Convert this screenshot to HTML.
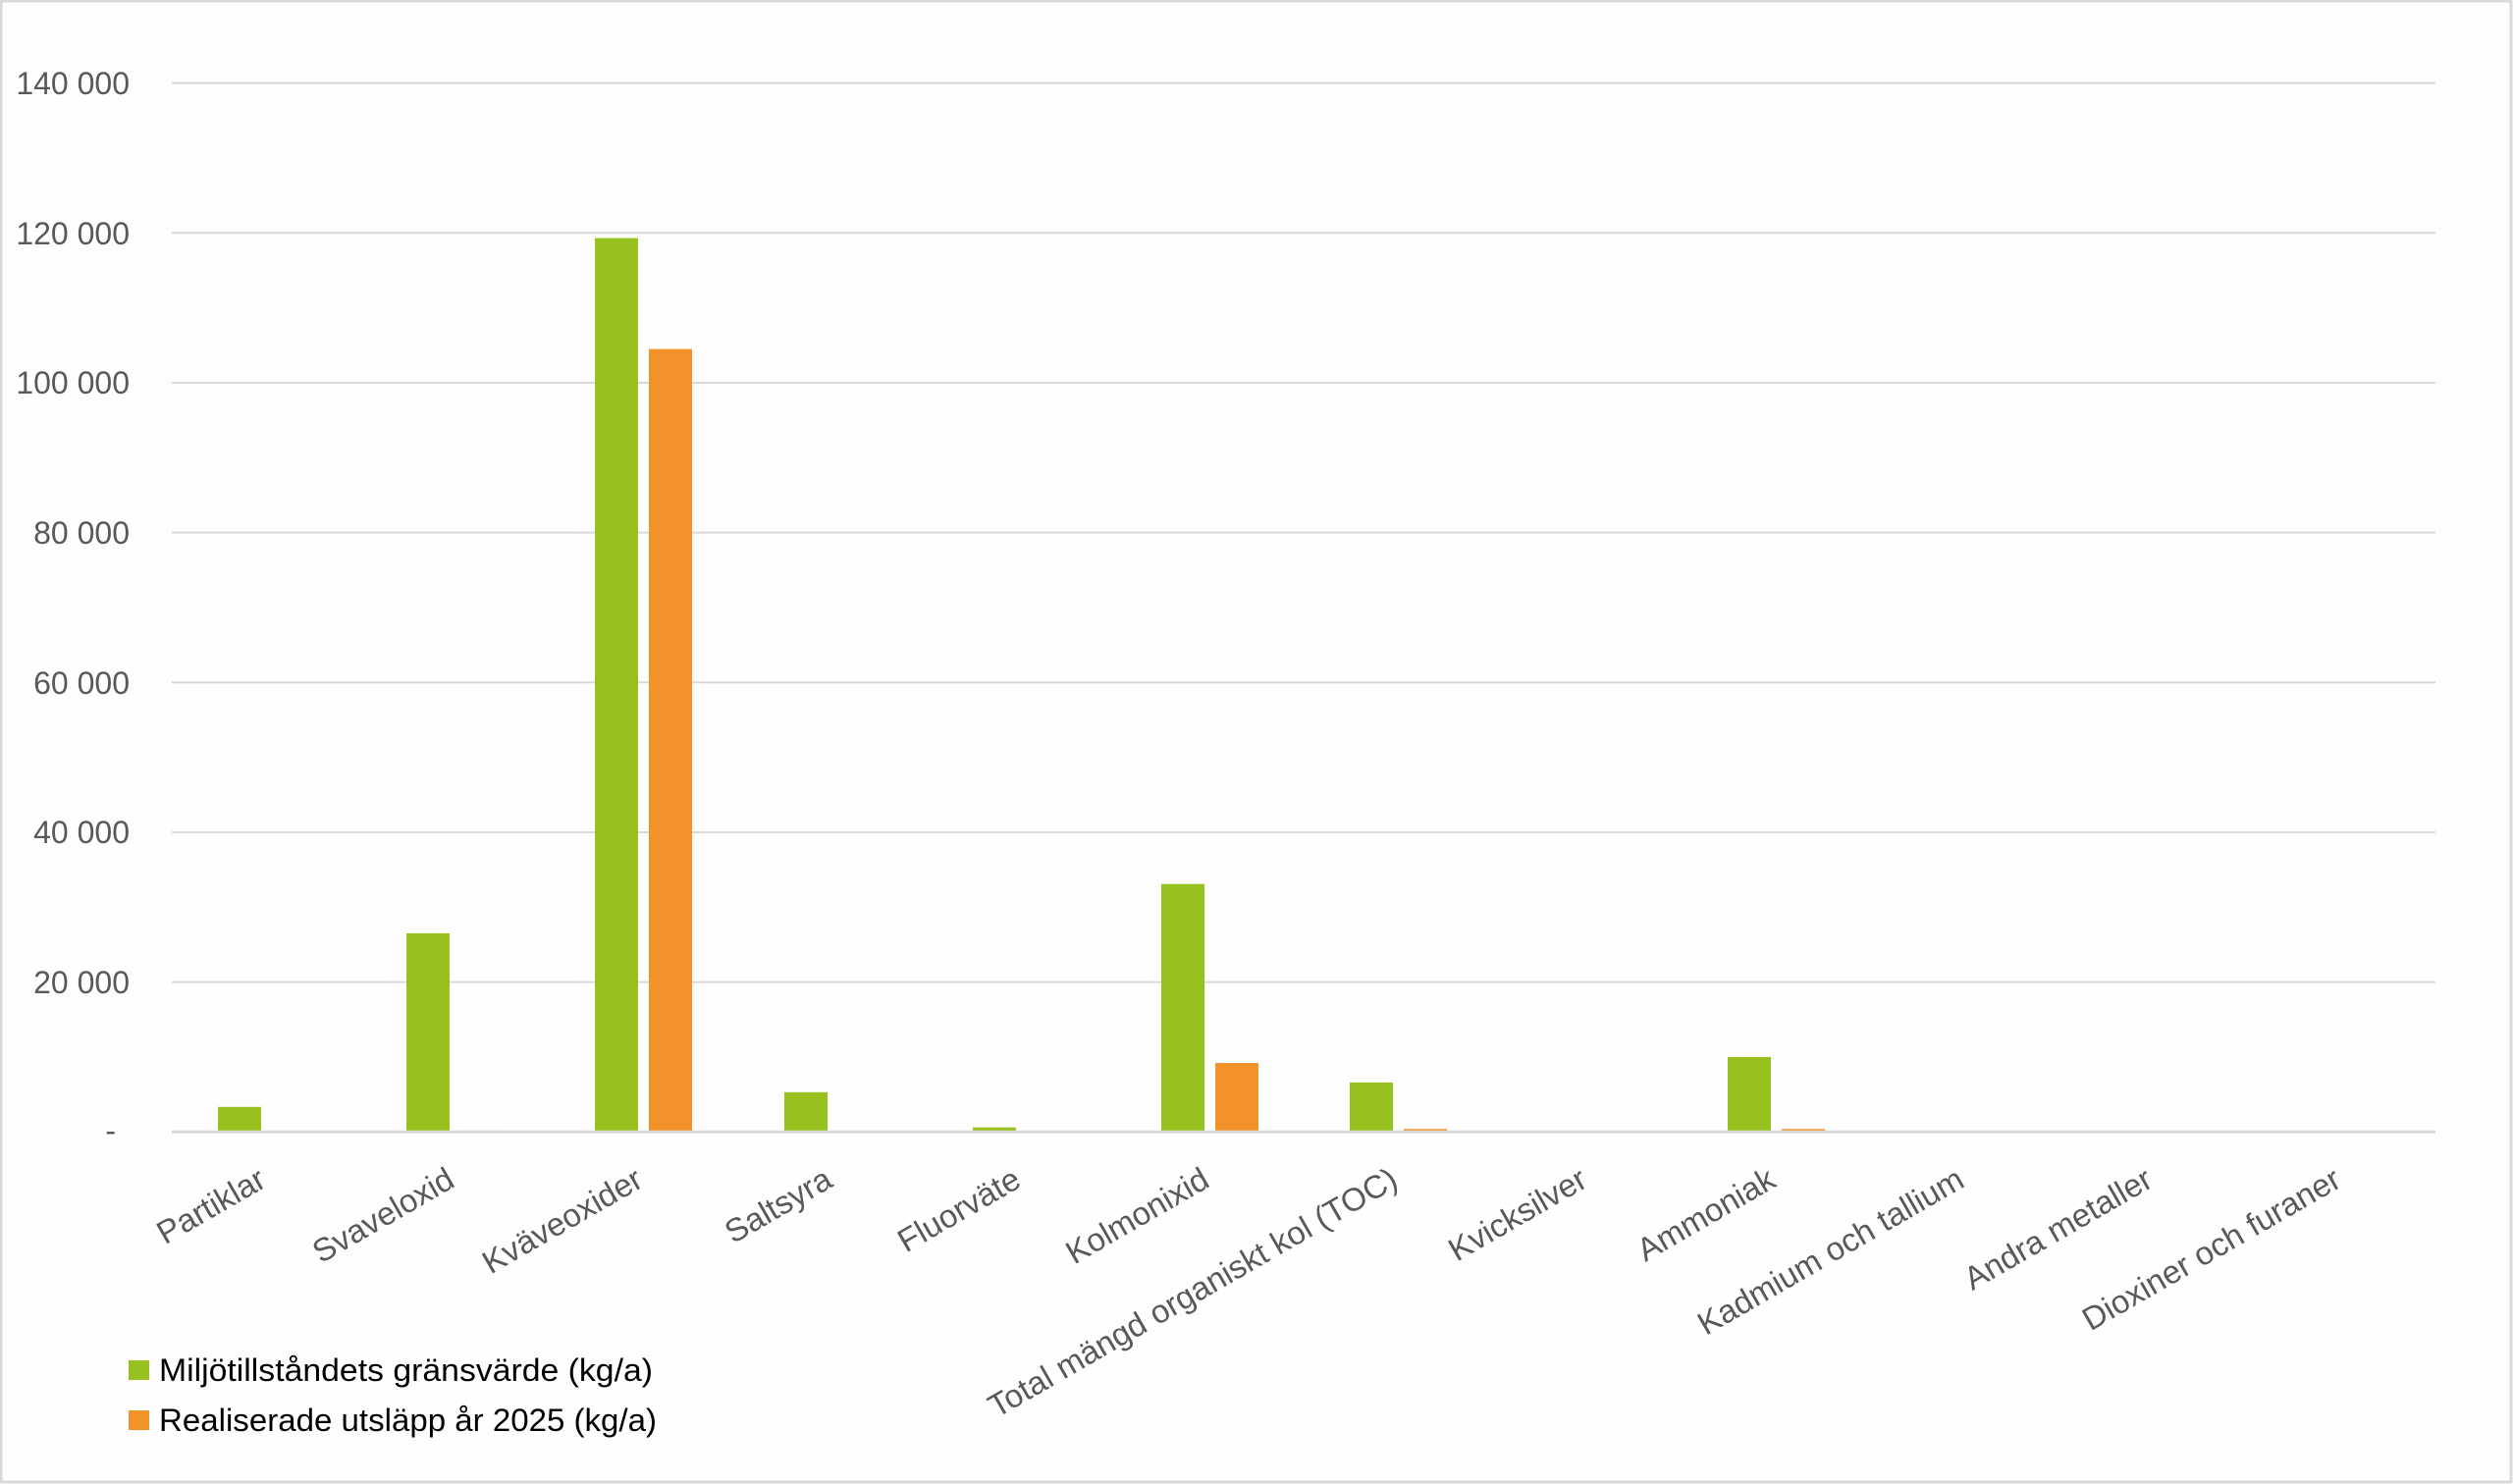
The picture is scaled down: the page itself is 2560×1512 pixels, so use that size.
<!DOCTYPE html>
<html><head><meta charset="utf-8"><style>
html,body{margin:0;padding:0;background:#fff;}
svg{display:block;}
</style></head><body>
<svg width="2560" height="1512" viewBox="0 0 2560 1512" xmlns="http://www.w3.org/2000/svg" font-family="Liberation Sans, sans-serif">
<rect x="1" y="1" width="2557" height="1509" fill="#fefefe" stroke="#d9d9d9" stroke-width="3"/>
<g stroke="#d9d9d9" stroke-width="2">
<line x1="175" x2="2481" y1="84.6" y2="84.6"/>
<line x1="175" x2="2481" y1="237.3" y2="237.3"/>
<line x1="175" x2="2481" y1="390" y2="390"/>
<line x1="175" x2="2481" y1="542.6" y2="542.6"/>
<line x1="175" x2="2481" y1="695.3" y2="695.3"/>
<line x1="175" x2="2481" y1="848" y2="848"/>
<line x1="175" x2="2481" y1="1000.6" y2="1000.6"/>
</g>
<g fill="#595959" font-size="32" text-anchor="end">
<text x="132" y="96">140 000</text>
<text x="132" y="249">120 000</text>
<text x="132" y="401">100 000</text>
<text x="132" y="554">80 000</text>
<text x="132" y="707">60 000</text>
<text x="132" y="859">40 000</text>
<text x="132" y="1012">20 000</text>
<text x="118" y="1163">-</text>
</g>
<g fill="#96c11f">
<rect x="222" y="1127.8" width="44" height="25.5"/>
<rect x="414" y="950.9" width="44" height="202.4"/>
<rect x="606" y="242.6" width="44" height="910.7"/>
<rect x="799" y="1112.8" width="44" height="40.5"/>
<rect x="991" y="1148.7" width="44" height="4.6"/>
<rect x="1183" y="900.7" width="44" height="252.6"/>
<rect x="1375" y="1102.9" width="44" height="50.4"/>
<rect x="1760" y="1077" width="44" height="76.3"/>
<rect x="2144" y="1152" width="44" height="1.3"/>
</g>
<g fill="#f39229">
<rect x="469" y="1151.8" width="44" height="1.5" fill="#f7c591"/>
<rect x="661" y="355.6" width="44" height="797.7"/>
<rect x="1238" y="1083.1" width="44" height="70.2"/>
<rect x="1430" y="1150.3" width="44" height="3"/>
<rect x="1815" y="1150.3" width="44" height="3"/>
</g>
<line x1="175" x2="2481" y1="1153.3" y2="1153.3" stroke="#d9d9d9" stroke-width="3"/>
<g fill="#595959" font-size="33" text-anchor="end">
<text transform="translate(273,1208) rotate(-30)">Partiklar</text>
<text transform="translate(465,1208) rotate(-30)">Svaveloxid</text>
<text transform="translate(657,1208) rotate(-30)">Kväveoxider</text>
<text transform="translate(850,1208) rotate(-30)">Saltsyra</text>
<text transform="translate(1042,1208) rotate(-30)">Fluorväte</text>
<text transform="translate(1234,1208) rotate(-30)">Kolmonixid</text>
<text transform="translate(1426,1208) rotate(-30)">Total mängd organiskt kol (TOC)</text>
<text transform="translate(1619,1208) rotate(-30)">Kvicksilver</text>
<text transform="translate(1811,1208) rotate(-30)">Ammoniak</text>
<text transform="translate(2003,1208) rotate(-30)">Kadmium och tallium</text>
<text transform="translate(2195,1208) rotate(-30)">Andra metaller</text>
<text transform="translate(2387,1208) rotate(-30)">Dioxiner och furaner</text>
</g>
<rect x="131" y="1386" width="21" height="20" fill="#96c11f"/>
<rect x="131" y="1437" width="21" height="20" fill="#f39229"/>
<g fill="#000" font-size="32">
<text x="162" y="1407" textLength="503" lengthAdjust="spacingAndGlyphs">Miljötillståndets gränsvärde (kg/a)</text>
<text x="162" y="1458" textLength="507" lengthAdjust="spacingAndGlyphs">Realiserade utsläpp år 2025 (kg/a)</text>
</g>
</svg>
</body></html>
